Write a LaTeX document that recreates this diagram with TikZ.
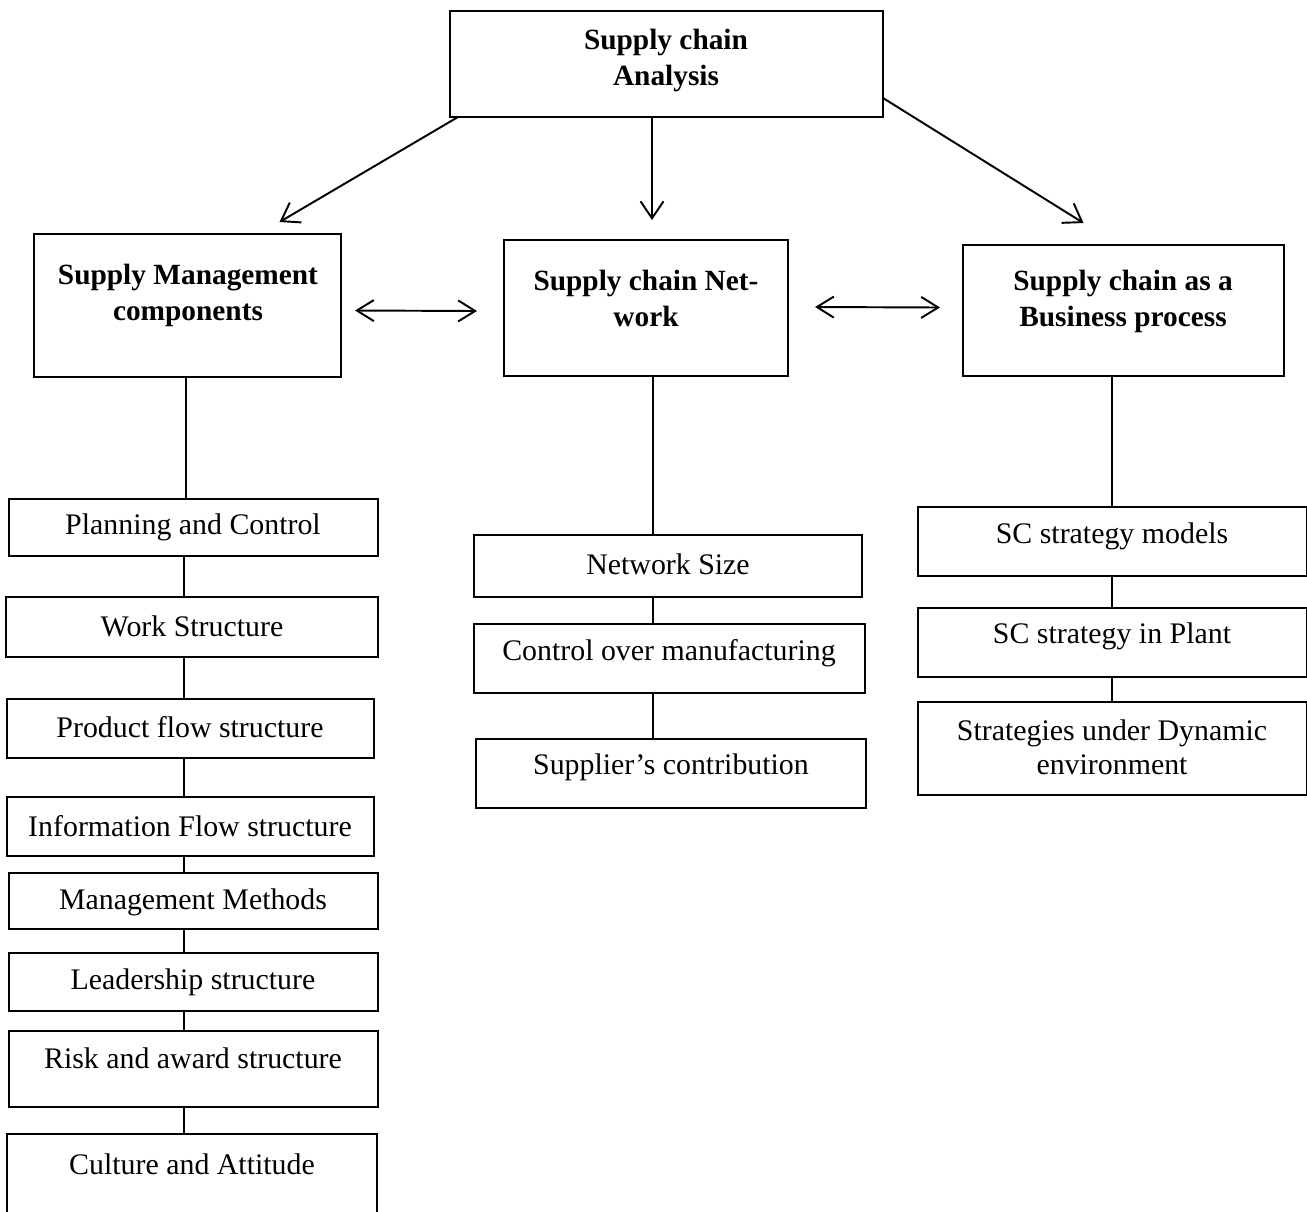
\documentclass[tikz,border=0pt]{standalone}
\usepackage{fontspec}
\setmainfont{Liberation Serif}
\usetikzlibrary{arrows.meta,calc}

% rectangle given by its two corners, in pixel-like units
\newcommand\rectnode[5]{%
  \node[box, minimum width={(#4-#2)*0.02cm}, minimum height={(#5-#3)*0.02cm}]
    (#1) at ({(#2+#4)/2},{(#3+#5)/2}) {};}

\tikzset{
  box/.style={draw, line width=1.1pt, inner sep=0pt, outer sep=0pt},
  head/.style={font=\fontsize{16.7}{20.5}\selectfont\bfseries, align=center, inner sep=0pt},
  item/.style={font=\fontsize{17}{19.5}\selectfont, align=center, inner sep=0pt},
  link/.style={line width=1.1pt},
  arr/.style={line width=1.1pt, -{Straight Barb[length=0.34cm,width=0.46cm,line width=1.1pt]}},
  darr/.style={line width=1.1pt, {Straight Barb[length=0.34cm,width=0.42cm,line width=1.1pt]}-{Straight Barb[length=0.34cm,width=0.42cm,line width=1.1pt]}}
}

\begin{document}
\begin{tikzpicture}[x=0.02cm,y=-0.02cm]
\useasboundingbox (0,0) rectangle (1307,1211);
\clip (0,0) rectangle (1307,1211);

% root
\rectnode{root}{450}{11}{883}{117}
\node[head] (rootT) at (666,60) {Supply chain\\Analysis};

% second level
\rectnode{smc}{34}{234}{341}{377}
\node[head] (smcT) at (188,295) {Supply Management\\components};
\rectnode{net}{504}{240}{788}{376}
\node[head] (netT) at (646,298) {Supply chain Net-\\work};
\rectnode{bp}{963}{245}{1284}{376}
\node[head] (bpT) at (1123,301) {Supply chain as a\\Business process};

% left column
\rectnode{pc}{9}{499}{378}{556}
\node[item] (pcT) at (193,527) {Planning and Control};
\rectnode{ws}{6}{597}{378}{657}
\node[item] (wsT) at (192,626) {Work Structure};
\rectnode{pf}{7}{699}{374}{758}
\node[item] (pfT) at (190,727) {Product flow structure};
\rectnode{inf}{7}{797}{374}{856}
\node[item] (infT) at (190,826) {Information Flow structure};
\rectnode{mm}{9}{873}{378}{929}
\node[item] (mmT) at (193,902) {Management Methods};
\rectnode{ls}{9}{953}{378}{1011}
\node[item] (lsT) at (193,982) {Leadership structure};
\rectnode{ra}{9}{1031}{378}{1107}
\node[item] (raT) at (193,1058) {Risk and award structure};
\rectnode{ca}{7}{1134}{377}{1260}
\node[item] (caT) at (192,1164) {Culture and Attitude};

% middle column
\rectnode{ns}{474}{535}{862}{597}
\node[item] (nsT) at (668,564) {Network Size};
\rectnode{com}{474}{624}{865}{693}
\node[item] (comT) at (669,653) {Control over manufacturing};
\rectnode{sup}{476}{739}{866}{808}
\node[item] (supT) at (671,767) {Supplier’s contribution};

% right column
\rectnode{scm}{918}{507}{1307}{576}
\node[item] (scmT) at (1112,536) {SC strategy models};
\rectnode{scp}{918}{608}{1307}{677}
\node[item] (scpT) at (1112,636) {SC strategy in Plant};
\rectnode{sde}{918}{702}{1307}{795}
\node[item] (sdeT) at (1112,747) {Strategies under Dynamic\\environment};

% arrows from the root
\draw[arr] ($(root.south west)+(8,0)$) -- ($(smc.north)+(92,-12)$);
\draw[arr] ($(root.south)+(-14.5,0)$) -- ($(net.north)+(6,-20)$);
\draw[arr] ($(root.east)+(0,34)$) -- ($(bp.north)+(-40,-22)$);

% links between second-level boxes
\draw[darr] ($(smc.east)+(14,5)$) -- ($(net.west)+(-27,3)$);
\draw[darr] ($(net.east)+(27,-1)$) -- ($(bp.west)+(-23,-3)$);

% stems from the second-level boxes
\coordinate (smcB) at ($(smc.south)+(-1.5,0)$);
\coordinate (netB) at ($(net.south)+(7,0)$);
\coordinate (bpB) at ($(bp.south)+(-11.5,0)$);
\draw[link] (smcB) -- (smcB |- pc.north);
\draw[link] (netB) -- (netB |- ns.north);
\draw[link] (bpB) -- (bpB |- scm.north);

% left chain
\foreach \a/\b in {pc/ws, ws/pf, pf/inf, inf/mm, mm/ls, ls/ra, ra/ca}
  \draw[link] (184,0 |- \a.south) -- (184,0 |- \b.north);

% middle chain
\foreach \a/\b in {ns/com, com/sup}
  \draw[link] (653,0 |- \a.south) -- (653,0 |- \b.north);

% right chain
\foreach \a/\b in {scm/scp, scp/sde}
  \draw[link] (1112,0 |- \a.south) -- (1112,0 |- \b.north);
\end{tikzpicture}
\end{document}
